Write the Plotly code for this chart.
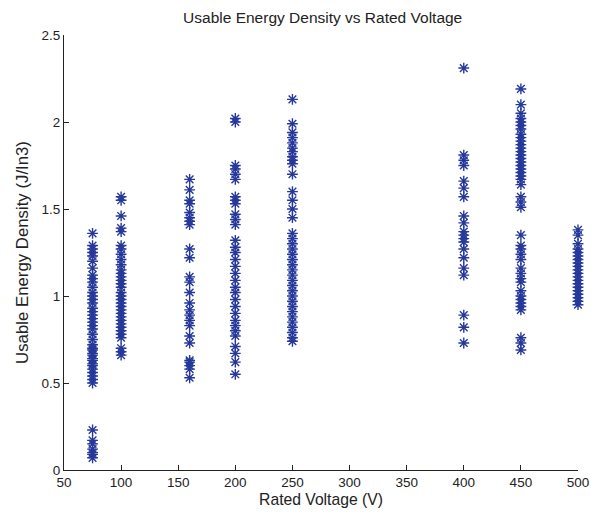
import plotly.graph_objects as go

voltages = [75, 100, 160, 200, 250, 400, 450, 500]

d75 = [1.36, 1.29, 1.27, 1.25, 1.23, 1.20, 1.16, 1.12, 1.10, 1.08, 1.05, 1.02, 1.00, 0.98, 0.96,
       0.93, 0.91, 0.89, 0.87, 0.85, 0.83, 0.81, 0.78, 0.75, 0.72, 0.70, 0.69, 0.67, 0.66, 0.64,
       0.63, 0.61, 0.60, 0.58, 0.56, 0.54, 0.52, 0.50, 0.23, 0.17, 0.15, 0.12, 0.10, 0.09, 0.07]
d100 = [1.57, 1.55, 1.46, 1.39, 1.37, 1.29, 1.27, 1.24, 1.21, 1.18, 1.15, 1.13, 1.11, 1.09, 1.07,
        1.05, 1.02, 1.00, 0.98, 0.96, 0.94, 0.92, 0.90, 0.88, 0.86, 0.84, 0.82, 0.80, 0.78, 0.76,
        0.70, 0.68, 0.66]
d160 = [1.67, 1.61, 1.55, 1.53, 1.48, 1.45, 1.43, 1.41, 1.27, 1.22, 1.11, 1.08, 1.02, 0.96, 0.92,
        0.89, 0.86, 0.83, 0.77, 0.73, 0.63, 0.62, 0.60, 0.58, 0.53]
d200 = [2.02, 2.00, 1.75, 1.73, 1.70, 1.67, 1.57, 1.55, 1.53, 1.47, 1.44, 1.41, 1.32, 1.28, 1.25,
        1.21, 1.17, 1.13, 1.09, 1.05, 1.02, 0.98, 0.94, 0.90, 0.86, 0.83, 0.80, 0.77, 0.71, 0.67,
        0.62, 0.55]
d250 = [2.13, 1.99, 1.94, 1.91, 1.88, 1.85, 1.83, 1.80, 1.78, 1.76, 1.70, 1.60, 1.55, 1.50, 1.45,
        1.36, 1.33, 1.30, 1.27, 1.24, 1.21, 1.18, 1.15, 1.12, 1.09, 1.06, 1.03, 1.00, 0.97, 0.94,
        0.91, 0.88, 0.85, 0.82, 0.79, 0.76, 0.74]
d400 = [2.31, 1.81, 1.78, 1.75, 1.66, 1.62, 1.57, 1.46, 1.42, 1.37, 1.35, 1.33, 1.31, 1.27, 1.22,
        1.16, 1.12, 0.89, 0.82, 0.73]
d450 = [2.19, 2.10, 2.05, 2.02, 2.00, 1.98, 1.96, 1.93, 1.91, 1.89, 1.87, 1.85, 1.83, 1.81, 1.79,
        1.77, 1.75, 1.73, 1.71, 1.69, 1.67, 1.64, 1.57, 1.54, 1.51, 1.35, 1.29, 1.27, 1.24, 1.21,
        1.16, 1.13, 1.10, 1.08, 1.03, 1.00, 0.98, 0.96, 0.94, 0.92, 0.76, 0.73, 0.69]
d500 = [1.38, 1.35, 1.30, 1.27, 1.25, 1.23, 1.21, 1.19, 1.17, 1.15, 1.13, 1.11, 1.09, 1.07, 1.05,
        1.03, 1.01, 0.99, 0.97, 0.95]

groups = [d75, d100, d160, d200, d250, d400, d450, d500]

xs, ys = [], []
for v, g in zip(voltages, groups):
    xs.extend([v] * len(g))
    ys.extend(g)

fig = go.Figure()
fig.add_trace(go.Scatter(
    x=xs, y=ys, mode="markers", cliponaxis=False,
    marker=dict(symbol="asterisk-open", size=9, color="#26399a",
                line=dict(color="#26399a", width=1.4)),
    showlegend=False,
))

font = "Liberation Sans, Arial, sans-serif"
fig.update_layout(
    width=591, height=519,
    margin=dict(l=64, r=13, t=35, b=49),
    paper_bgcolor="white", plot_bgcolor="white",
    font=dict(family=font, size=13, color="#222"),
    title=dict(text="Usable Energy Density vs Rated Voltage", x=0.546, xanchor="center",
               y=0.967, yanchor="middle", font=dict(size=15.5, color="#222")),
)
fig.update_xaxes(range=[50, 500], tickvals=[50, 100, 150, 200, 250, 300, 350, 400, 450, 500],
                 ticks="inside", ticklen=5, tickcolor="#222", showline=True, linecolor="#222",
                 linewidth=1, showgrid=False, zeroline=False, ticklabeloverflow="allow",
                 automargin=False, tickfont=dict(size=13.5),
                 title=dict(text="Rated Voltage (V)", standoff=4, font=dict(size=15.7)))
fig.update_yaxes(range=[0, 2.5], tickvals=[0, 0.5, 1, 1.5, 2, 2.5],
                 ticktext=["0", "0.5", "1", "1.5", "2", "2.5"],
                 ticks="inside", ticklen=5, tickcolor="#222", showline=True, linecolor="#222",
                 linewidth=1, showgrid=False, zeroline=False, tickfont=dict(size=13.5),
                 automargin=False,
                 title=dict(text="Usable Energy Density (J/In3)", standoff=8, font=dict(size=16.8)))

fig.write_html("out.html")
